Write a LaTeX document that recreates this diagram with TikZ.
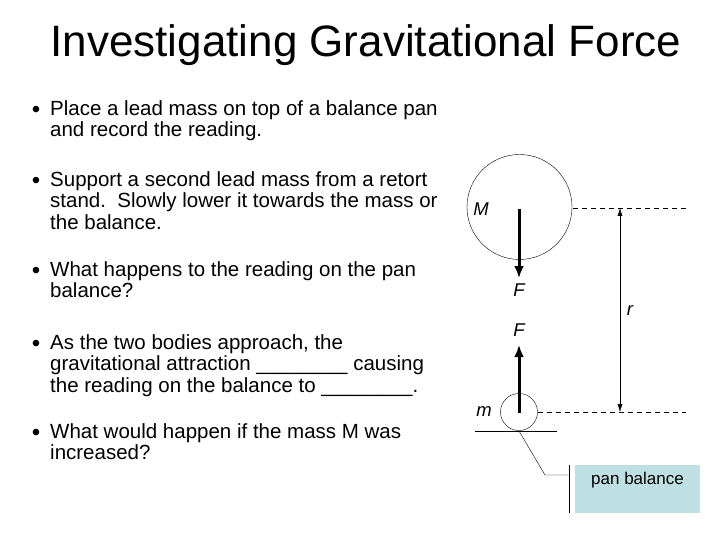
\documentclass[tikz,border=0pt]{standalone}
\usepackage{fontspec}
\setmainfont{Liberation Sans}
\usetikzlibrary{arrows.meta}
\begin{document}
\begin{tikzpicture}[x=1pt,y=-1pt,
  btxt/.style={anchor=north west,align=left,inner sep=0,font=\fontsize{20.5}{21.5}\selectfont},
  bul/.style={anchor=center,inner sep=0,font=\fontsize{24}{20}\selectfont},
  lbl/.style={inner sep=0,font=\fontsize{18.5}{20}\selectfont\itshape},
  force/.style={line width=3pt,-{Latex[length=12pt,width=10pt]}},
  dline/.style={dashed,dash pattern=on 5pt off 4pt,line width=0.8pt}]
\useasboundingbox (0,0) rectangle (720,540);
\node[inner sep=0,font=\fontsize{44}{46}\selectfont] (title) at (366,45) {Investigating Gravitational Force};
\node[bul] (b1) at (36,112) {•};
\node[btxt] (t1) at (50,100) {Place a lead mass on top of a balance pan\\and record the reading.};
\node[bul] (b2) at (36,183) {•};
\node[btxt] (t2) at (50,171) {Support a second lead mass from a retort\\stand.\ \ Slowly lower it towards the mass or\\the balance.};
\node[bul] (b3) at (36,273) {•};
\node[btxt] (t3) at (50,261) {What happens to the reading on the pan\\balance?};
\node[bul] (b4) at (36,346) {•};
\node[btxt] (t4) at (50,334) {As the two bodies approach, the\\gravitational attraction \_\_\_\_\_\_\_\_ causing\\the reading on the balance to \_\_\_\_\_\_\_\_.};
\node[bul] (b5) at (36,435) {•};
\node[btxt] (t5) at (50,423) {What would happen if the mass M was\\increased?};
% diagram
\node[circle,draw,minimum size=105pt,inner sep=0] (M) at (519.5,207) {};
\node[circle,draw,minimum size=37pt,inner sep=0] (m) at (519,412) {};
\node[lbl] (Ml) at (481,209) {M};
\node[lbl] (ml) at (484,412) {m};
\coordinate (Mc) at (519,209);
\coordinate (Mt) at (519,278);
\draw[force] (Mc) -- (Mt);
\node[lbl] (F1) at (519,290) {F};
\coordinate (mc) at (519,413);
\coordinate (mt) at (519,345);
\draw[force] (mc) -- (mt);
\node[lbl] (F2) at (519,330) {F};
\coordinate (d1a) at (573,208); \coordinate (d1b) at (686,208);
\coordinate (d2a) at (538,412); \coordinate (d2b) at (686,412);
\draw[dline] (d1a) -- (d1b);
\draw[dline] (d2a) -- (d2b);
\coordinate (ra) at (620,208); \coordinate (rb) at (620,412);
\draw[{Latex[length=8pt,width=5pt]}-{Latex[length=8pt,width=5pt]}] (ra) -- (rb);
\node[lbl] (rl) at (630,311) {r};
\coordinate (pa) at (475,431); \coordinate (pb) at (557,431);
\draw (pa) -- (pb);
\coordinate (l1) at (519,431); \coordinate (l2) at (545,475); \coordinate (l3) at (569,475);
\draw[line width=0.4pt] (l1) -- (l2) -- (l3);
\coordinate (v1) at (569,465); \coordinate (v2) at (569,513);
\draw (v1) -- (v2);
\node[fill={rgb,255:red,191;green,224;blue,227},minimum width=125pt,minimum height=48pt,inner sep=0] (pan) at (637.5,489) {};
\node[inner sep=0,font=\fontsize{17}{20}\selectfont] (pant) at (637.5,480) {pan balance};
\end{tikzpicture}
\end{document}
